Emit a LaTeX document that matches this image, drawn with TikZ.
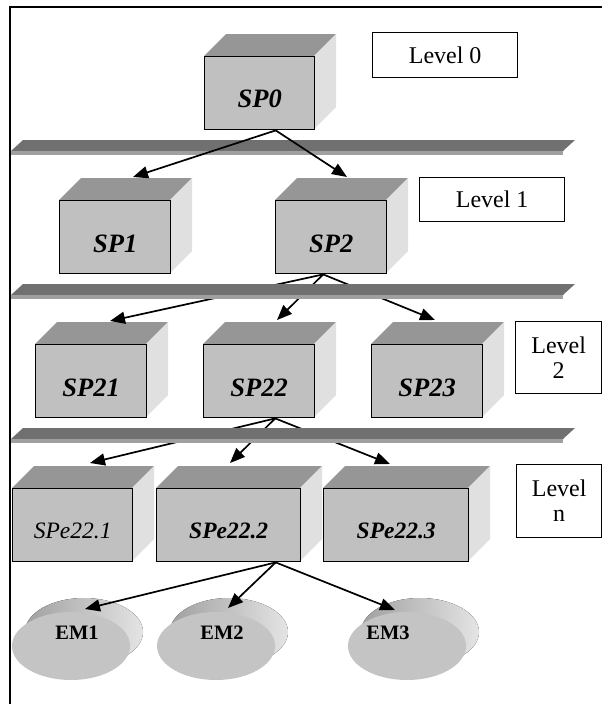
\documentclass[tikz,border=0pt]{standalone}
\usepackage{fontspec}
\setmainfont{Liberation Serif}
\usetikzlibrary{arrows.meta,calc,shapes.geometric}

\definecolor{facetop}{HTML}{969696}
\definecolor{facefront}{HTML}{C0C0C0}
\definecolor{faceside}{HTML}{E0E0E0}
\definecolor{bardark}{HTML}{707070}
\definecolor{barlight}{HTML}{A0A0A0}
\definecolor{emfront}{HTML}{C4C4C4}
\definecolor{embackdark}{HTML}{A0A0A0}
\definecolor{embacklight}{HTML}{E4E4E4}

\tikzset{
  frontface/.style={draw=black, line width=1.4pt, fill=facefront, inner sep=0pt, anchor=north west},
  splabel/.style={inner sep=0pt, font=\fontsize{26.5}{28}\selectfont\bfseries\itshape},
  spelabel/.style={inner sep=0pt, font=\fontsize{23.5}{26}\selectfont\bfseries\itshape},
  speplain/.style={inner sep=0pt, font=\fontsize{23.5}{26}\selectfont\itshape},
  levelbox/.style={draw=black, line width=1.3pt, fill=white, inner sep=0pt, anchor=north west,
    align=center, font=\fontsize{24}{25}\selectfont},
  emdisc/.style={ellipse, fill=emfront, inner sep=0pt, minimum width=118pt, minimum height=68pt},
  emlabel/.style={inner sep=0pt, font=\fontsize{20.5}{22}\selectfont\bfseries},
  link/.style={line width=1.7pt, -{Triangle[length=15pt,width=12pt]}},
  frameline/.style={line width=1.3pt},
}

% 3-D processor box: name, left, top, width, height, label, label style, label drop
\newcommand\procbox[8]{%
  \fill[facetop] (#2,#3) -- ++(22,-22) -- ++(#4,0) -- ++(-22,22) -- cycle;
  \fill[faceside] ({#2+#4},#3) -- ++(22,-22) -- ++(0,#5) -- ++(-22,22) -- cycle;
  \node[frontface, minimum width=#4pt, minimum height=#5pt] (#1) at (#2,#3) {};
  \node[#7] (#1-t) at ($(#1.center)+(0,#8)$) {#6};
}

% flat shelf separating the levels: top edge y
\newcommand\shelf[1]{%
  \fill[bardark] (23,#1) -- (575,#1) -- (563,{#1+11}) -- (11,{#1+11}) -- cycle;
  \fill[barlight] (11,{#1+11}) -- (563,{#1+11}) -- (563,{#1+15}) -- (11,{#1+15}) -- cycle;
}

% element disc: name, centre x, centre y, label, label x offset
\newcommand\emnode[5]{%
  \fill[left color=embackdark, right color=embacklight] ({#2+13},{#3-14}) ellipse [x radius=59, y radius=34];
  \node[emdisc] (#1) at (#2,#3) {};
  \node[emlabel] (#1-t) at ({#2+#5},{#3-13}) {#4};
}

\begin{document}
\begin{tikzpicture}[x=1pt,y=-1pt]
  \useasboundingbox (0,0) rectangle (602,704);
  \fill[white] (0,0) rectangle (602,704);

  % outer frame (left and top edges)
  \draw[frameline] (10,704) -- (10,7) -- (602,7);

  % level captions
  \node[levelbox, minimum width=145pt, minimum height=45pt] (lv0) at (372,32) {Level 0};
  \node[levelbox, minimum width=145pt, minimum height=44pt] (lv1) at (419,177) {Level 1};
  \node[levelbox, minimum width=86pt, minimum height=72pt] (lv2) at (515,321) {Level\\2};
  \node[levelbox, minimum width=85pt, minimum height=73pt] (lvn) at (516,464) {Level\\n};

  % level 0
  \procbox{sp0}{204}{56}{110}{73}{SP0}{splabel}{6}
  \shelf{140}
  \coordinate (sp0-out) at ($(sp0.south)+(16,0)$);

  % level 1
  \procbox{sp1}{59}{200}{111}{73}{SP1}{splabel}{7}
  \procbox{sp2}{275}{200}{111}{73}{SP2}{splabel}{7}
  \coordinate (sp1-in) at ($(sp1.north west)+(74,-23)$);
  \coordinate (sp2-in) at ($(sp2.north west)+(72,-23)$);
  \draw[link] (sp0-out) -- (sp1-in);
  \draw[link] (sp0-out) -- (sp2-in);

  % level 2
  \coordinate (sp2-out) at ($(sp2.south)+(-8,0)$);
  \procbox{sp21}{35}{344}{111}{73}{SP21}{splabel}{7}
  \procbox{sp22}{203}{344}{111}{73}{SP22}{splabel}{7}
  \procbox{sp23}{371}{344}{111}{73}{SP23}{splabel}{7}
  \coordinate (sp21-in) at ($(sp21.north west)+(75,-23)$);
  \coordinate (sp22-in) at ($(sp22.north west)+(74,-24)$);
  \coordinate (sp23-in) at ($(sp23.north west)+(64,-24)$);
  \draw[link] (sp2-out) -- (sp21-in);
  \draw[link] (sp2-out) -- (sp22-in);
  \draw[link] (sp2-out) -- (sp23-in);
  \shelf{284}

  % level n
  \coordinate (sp22-out) at ($(sp22.south)+(16,0)$);
  \procbox{spe1}{12}{488}{120}{73}{SPe22.1}{speplain}{6}
  \procbox{spe2}{156}{488}{144}{73}{SPe22.2}{spelabel}{6}
  \procbox{spe3}{323}{488}{145}{73}{SPe22.3}{spelabel}{6}
  \coordinate (spe1-in) at ($(spe1.north west)+(78,-25)$);
  \coordinate (spe2-in) at ($(spe2.north west)+(74,-25)$);
  \coordinate (spe3-in) at ($(spe3.north west)+(67,-24)$);
  \draw[link] (sp22-out) -- (spe1-in);
  \draw[link] (sp22-out) -- (spe2-in);
  \draw[link] (sp22-out) -- (spe3-in);
  \shelf{428}

  % element managers
  \emnode{em1}{71}{646}{EM1}{6}
  \emnode{em2}{216}{646}{EM2}{6}
  \emnode{em3}{407}{646}{EM3}{-19}
  \coordinate (spe2-out) at ($(spe2.south)+(47,0)$);
  \draw[link] (spe2-out) -- ($(em1.center)+(14,-37)$);
  \draw[link] (spe2-out) -- ($(em2.center)+(12,-38)$);
  \draw[link] (spe2-out) -- ($(em3.center)+(-12,-36)$);
\end{tikzpicture}
\end{document}
